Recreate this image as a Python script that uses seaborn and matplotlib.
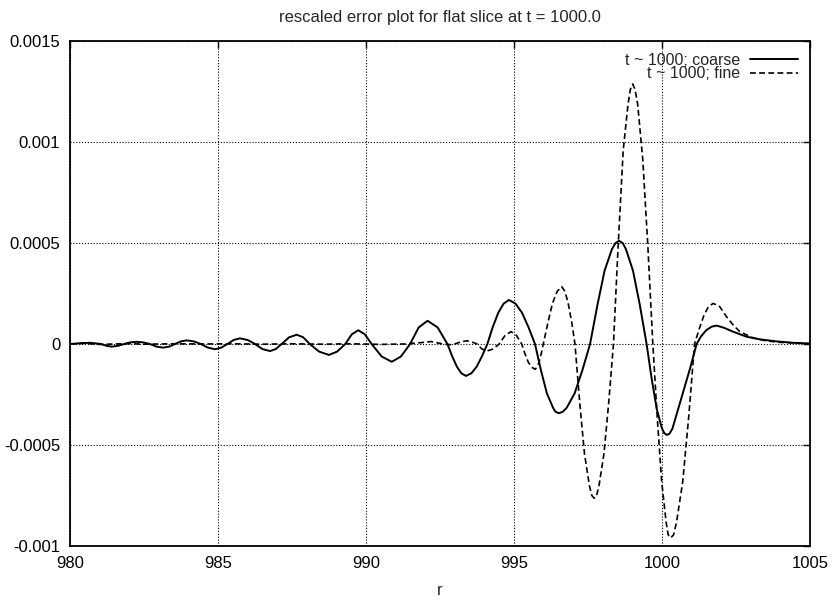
import numpy as np
import pandas as pd
import matplotlib
matplotlib.use("Agg")
import matplotlib.pyplot as plt
import seaborn as sns

# ---- data (values in units of 1e-4) ----
coarse_r = [980.0, 980.35, 980.68, 981.05, 981.23, 981.41, 981.62, 981.83, 982.04, 982.25,
            982.47, 982.7, 982.92, 983.15, 983.35, 983.55, 983.75, 983.94, 984.18, 984.42,
            984.66, 984.9, 985.11, 985.32, 985.53, 985.74, 986.0, 986.25, 986.5, 986.76,
            986.95, 987.15, 987.4, 987.66, 987.88, 988.1, 988.42, 988.75, 989.02, 989.3,
            989.52, 989.74, 989.96, 990.19, 990.53, 990.87, 991.18, 991.49, 991.78, 992.08,
            992.42, 992.75, 992.91, 993.07, 993.22, 993.38, 993.56, 993.74, 993.92, 994.1,
            994.28, 994.47, 994.65, 994.83, 995.05, 995.27, 995.49, 995.71, 995.91, 996.11,
            996.32, 996.4, 996.52, 996.65, 996.78, 997.05, 997.31, 997.57, 997.82, 998.06,
            998.31, 998.43, 998.55, 998.67, 998.78, 999.02, 999.25, 999.48, 999.65, 999.82,
            999.99, 1000.07, 1000.16, 1000.25, 1000.35, 1000.55, 1000.75, 1000.95, 1001.17, 1001.32,
            1001.5, 1001.68, 1001.85, 1002.1, 1002.4, 1002.86, 1003.31, 1003.87, 1004.43, 1005.0]
coarse_e4 = [0.0, 0.04, 0.06, 0.0, -0.09, -0.13, -0.09, 0.0, 0.08, 0.11,
             0.08, 0.0, -0.13, -0.18, -0.13, 0.0, 0.13, 0.18, 0.13, 0.0,
             -0.18, -0.26, -0.18, 0.0, 0.2, 0.28, 0.2, 0.0, -0.25, -0.35,
             -0.25, 0.0, 0.33, 0.46, 0.33, 0.0, -0.38, -0.54, -0.38, 0.0,
             0.48, 0.68, 0.48, 0.0, -0.62, -0.88, -0.62, 0.0, 0.82, 1.15,
             0.82, 0.0, -0.6, -1.12, -1.45, -1.58, -1.45, -1.12, -0.6, 0.0,
             0.83, 1.55, 2.0, 2.18, 2.0, 1.55, 0.83, 0.0, -1.3, -2.44,
             -3.16, -3.35, -3.43, -3.35, -3.16, -2.44, -1.3, 0.0, 1.94, 3.63,
             4.7, 5.0, 5.11, 5.0, 4.7, 3.63, 1.94, 0.0, -1.71, -3.2,
             -4.14, -4.4, -4.5, -4.45, -4.2, -3.2, -2.2, -1.2, 0.0, 0.38,
             0.69, 0.86, 0.91, 0.8, 0.61, 0.36, 0.23, 0.13, 0.06, 0.02]

fine_r = [980.0, 980.5, 981.0, 981.5, 982.0, 982.5, 983.0, 983.5, 984.5, 985.5,
          986.5, 987.5, 988.5, 989.5, 990.5, 991.3, 991.8, 992.2, 992.6, 992.9,
          993.2, 993.4, 993.58, 993.75, 993.92, 994.08, 994.29, 994.5, 994.7, 994.9,
          995.08, 995.26, 995.37, 995.48, 995.6, 995.71, 995.78, 995.85, 995.92, 995.99,
          996.15, 996.3, 996.46, 996.61, 996.72, 996.83, 996.95, 997.06, 997.22, 997.38,
          997.55, 997.63, 997.71, 997.79, 997.87, 998.04, 998.2, 998.36, 998.52, 998.69,
          998.85, 998.93, 999.01, 999.09, 999.18, 999.35, 999.52, 999.69, 999.84, 999.99,
          1000.14, 1000.21, 1000.29, 1000.39, 1000.49, 1000.7, 1000.9, 1001.1, 1001.26, 1001.42,
          1001.57, 1001.73, 1001.95, 1002.18, 1002.4, 1002.63, 1003.08, 1003.5, 1004.0, 1005.0]
fine_e4 = [0.0, 0.03, -0.02, 0.0, 0.02, -0.01, 0.0, 0.01, 0.0, 0.01,
           -0.01, 0.01, -0.01, 0.01, -0.02, 0.0, 0.06, 0.12, 0.0, -0.04,
           0.1, 0.16, 0.1, 0.0, -0.25, -0.35, -0.25, 0.0, 0.43, 0.61,
           0.43, 0.0, -0.48, -0.89, -1.15, -1.25, -1.15, -0.89, -0.48, 0.0,
           1.08, 2.02, 2.61, 2.84, 2.61, 2.02, 1.08, 0.0, -2.9, -5.42,
           -7.03, -7.5, -7.64, -7.5, -7.03, -5.42, -2.9, 0.0, 4.9, 9.6,
           11.84, 12.6, 12.87, 12.6, 11.84, 9.14, 4.9, 0.0, -3.65, -6.82,
           -8.83, -9.45, -9.6, -9.45, -8.83, -6.82, -3.65, 0.0, 0.76, 1.43,
           1.85, 2.01, 1.85, 1.35, 0.95, 0.61, 0.3, 0.16, 0.08, 0.02]

series_labels = ["t ~ 1000; coarse", "t ~ 1000; fine"]
x_ticks = [980, 985, 990, 995, 1000, 1005]
y_ticks = [-0.001, -0.0005, 0.0, 0.0005, 0.001, 0.0015]
y_tick_labels = ["-0.001", "-0.0005", "0", "0.0005", "0.001", "0.0015"]
title = "rescaled error plot for flat slice at t = 1000.0"
x_label = "r"

# ---- style ----
sns.set_style("white")
plt.rcParams["font.family"] = ["Liberation Sans", "DejaVu Sans"]
plt.rcParams["axes.unicode_minus"] = False
FS = 12

fig = plt.figure(figsize=(8.35, 6.0), dpi=100)
ax = fig.add_axes([70 / 835, 54 / 600, 740 / 835, 505 / 600])

coarse = pd.DataFrame({"r": coarse_r, "v": np.array(coarse_e4) * 1e-4})
fine = pd.DataFrame({"r": fine_r, "v": np.array(fine_e4) * 1e-4})

sns.lineplot(data=coarse, x="r", y="v", ax=ax, color="black", lw=1.4,
             label=series_labels[0], sort=False, estimator=None)
sns.lineplot(data=fine, x="r", y="v", ax=ax, color="black", lw=1.2,
             label=series_labels[1], sort=False, estimator=None)
ax.lines[1].set_dashes((3.5, 2.0))

ax.set_xlim(980, 1005)
ax.set_ylim(-0.001, 0.0015)
ax.set_xticks(x_ticks)
ax.set_xticklabels([str(t) for t in x_ticks], fontsize=FS)
ax.set_yticks(y_ticks)
ax.set_yticklabels(y_tick_labels, fontsize=FS)
ax.tick_params(direction="in", length=5, width=1, top=True, right=True,
               colors="black")
ax.tick_params(axis="x", pad=7)
ax.tick_params(axis="y", pad=7)

ax.grid(True, color="black", linestyle=(0, (1, 1.6)), linewidth=0.8)
for s in ax.spines.values():
    s.set_visible(True)
    s.set_color("black")
    s.set_linewidth(1.3)

ax.set_title(title, fontsize=FS, pad=14)
ax.set_xlabel(x_label, fontsize=FS, labelpad=9)
ax.set_ylabel("")

leg = ax.legend(loc="upper right", frameon=False, markerfirst=False,
                fontsize=11.5, handlelength=3.0, handletextpad=0.6,
                labelspacing=-0.1, borderaxespad=0.55, borderpad=0.2)

fig.savefig("out.png", dpi=100, facecolor="white")
